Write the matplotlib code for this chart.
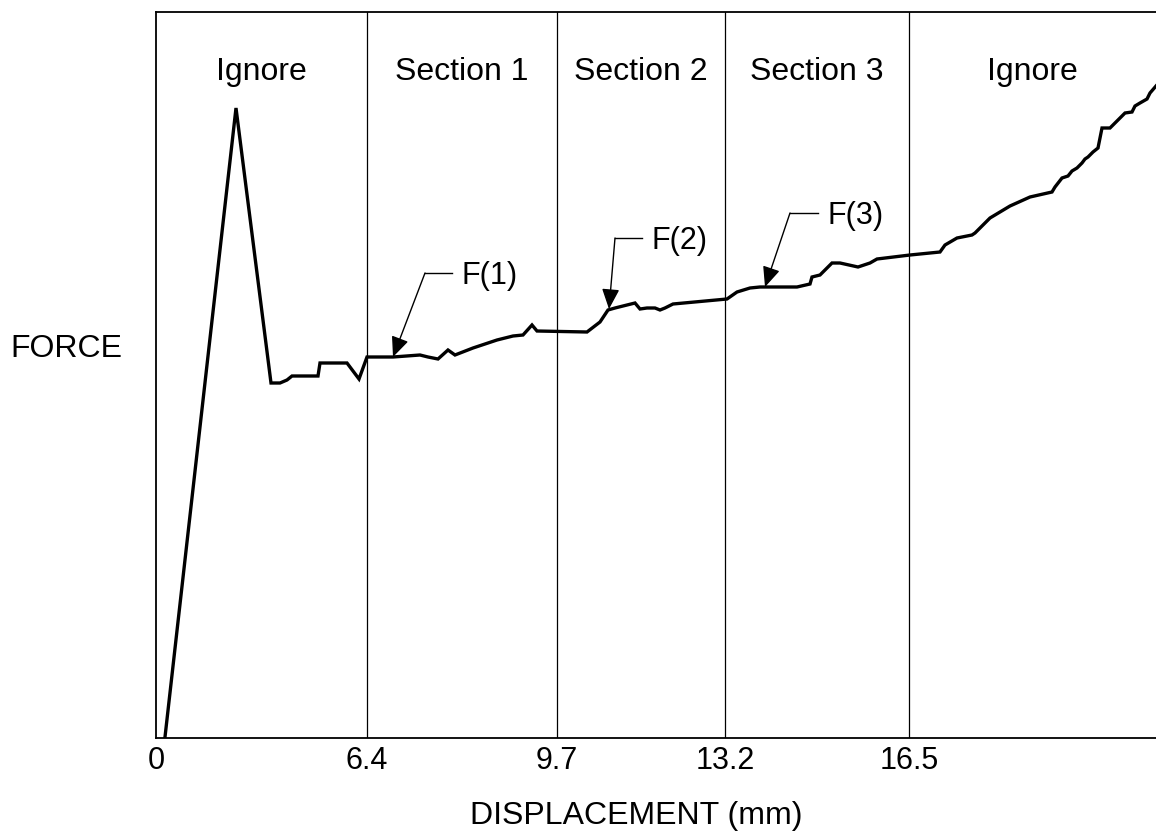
import matplotlib
matplotlib.use("Agg")
import matplotlib.pyplot as plt

plt.rcParams['font.family'] = ['Liberation Sans', 'DejaVu Sans']

# Horizontal position (plot units) and force (plot units) of the traced curve
disp = [9, 80, 115, 124, 131, 136, 162, 164, 191, 203, 211, 237, 264, 272, 282,
        292, 299, 317, 341, 357, 367, 376, 381, 431, 444, 452, 459, 479, 484, 491,
        499, 504, 509, 517, 571, 581, 594, 604, 641, 654, 656, 664, 676, 684, 702,
        714, 721, 754, 784, 789, 801, 816, 819, 834, 854, 874, 896, 899, 906, 912,
        916, 921, 926, 929, 932, 937, 942, 946, 954, 969, 976, 979, 984, 991, 994,
        1000]
force = [1, 630, 355, 355, 358, 362, 362, 375, 375, 359, 381, 381, 383, 381, 379,
         388, 383, 390, 398, 402, 403, 413, 407, 406, 416, 428, 430, 435, 429, 430,
         430, 428, 430, 434, 439, 446, 450, 451, 451, 454, 461, 463, 475, 475, 471,
         475, 479, 483, 486, 493, 500, 503, 505, 520, 532, 541, 546, 551, 560, 562,
         567, 570, 575, 579, 581, 586, 590, 610, 610, 625, 626, 632, 635, 639, 645,
         652]

# Section boundaries (positions) and tick labels
tick_pos = [0, 211, 401, 569, 753]
tick_labels = ["0", "6.4", "9.7", "13.2", "16.5"]
boundaries = [211, 401, 569, 753]
section_names = ["Ignore", "Section 1", "Section 2", "Section 3", "Ignore"]
section_edges = [0, 211, 401, 569, 753, 1000]

# Annotations: label, tip, elbow, end of horizontal leader
ann_labels = ["F(1)", "F(2)", "F(3)"]
ann_tips = [(237, 381), (453, 429), (609, 451)]
ann_elbows = [(269, 465), (459, 500), (634, 525)]
ann_ends = [(296, 465), (486, 500), (662, 525)]

fig = plt.figure(figsize=(11.56, 8.35), dpi=100)
ax = fig.add_axes([156/1156, 97/835, 1000/1156, 726/835])
ax.set_xlim(0, 1000)
ax.set_ylim(0, 726)

for b in boundaries:
    ax.axvline(b, color='black', lw=0.9)

ax.plot(disp, force, color='black', lw=2.4, solid_joinstyle='miter')

for i, name in enumerate(section_names):
    xc = (section_edges[i] + section_edges[i + 1]) / 2
    ax.text(xc, 658, name, ha='center', va='baseline', fontsize=23)

for lab, tip, elb, end in zip(ann_labels, ann_tips, ann_elbows, ann_ends):
    ax.plot([elb[0], end[0]], [elb[1], end[1]], color='black', lw=1.0)
    ax.annotate('', xy=tip, xytext=elb,
                arrowprops=dict(arrowstyle='-|>,head_length=0.62,head_width=0.27',
                                color='black', lw=1.0, mutation_scale=20,
                                shrinkA=0, shrinkB=0))
    ax.text(end[0] + 10, end[1] - 3, lab, ha='left', va='center', fontsize=22)

ax.set_xticks(tick_pos)
ax.set_xticklabels(tick_labels, fontsize=22)
ax.tick_params(axis='x', length=0, pad=6)
ax.set_yticks([])

ax.set_xlabel("DISPLACEMENT (mm)", fontsize=23)
ax.xaxis.label.set_va('center')
ax.xaxis.set_label_coords(0.48, -78/726)
ax.set_ylabel("FORCE", fontsize=23, rotation=0)
ax.yaxis.label.set_va('center')
ax.yaxis.label.set_ha('center')
ax.yaxis.set_label_coords(-0.09, 389/726)

for s in ['left', 'bottom', 'top']:
    ax.spines[s].set_linewidth(1.3)
ax.spines['right'].set_visible(False)

fig.savefig("out.png", dpi=100)
